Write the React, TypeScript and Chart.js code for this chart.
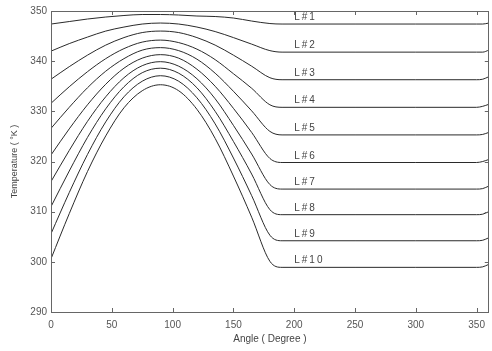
import React, { useEffect, useRef } from "react";
import { Chart, registerables } from "chart.js";

Chart.register(...registerables);

const angles = [0, 15, 30, 45, 60, 75, 90, 105, 120, 135, 150, 165, 180, 190, 250, 300, 350, 355, 360];

const line1 = [347.4, 347.9, 348.4, 348.8, 349.1, 349.3, 349.3, 349.2, 349.0, 348.9, 348.6, 348.0, 347.5, 347.4, 347.4, 347.4, 347.4, 347.4, 347.6];
const line2 = [342.0, 343.5, 344.8, 346.0, 346.8, 347.4, 347.6, 347.4, 346.8, 345.9, 344.7, 343.4, 342.1, 341.8, 341.8, 341.8, 341.8, 341.8, 342.2];
const line3 = [336.4, 338.9, 341.2, 343.2, 344.7, 345.7, 346.0, 345.7, 344.7, 343.2, 341.2, 339.0, 336.7, 336.3, 336.3, 336.3, 336.3, 336.4, 336.9];
const line4 = [331.6, 334.9, 337.9, 340.5, 342.5, 343.8, 344.2, 343.7, 342.4, 340.3, 337.5, 334.6, 331.3, 330.8, 330.8, 330.8, 330.8, 331.0, 331.4];
const line5 = [326.6, 330.8, 334.7, 338.0, 340.5, 342.2, 342.7, 342.1, 340.4, 337.6, 334.0, 330.1, 326.0, 325.3, 325.3, 325.3, 325.3, 325.4, 325.8];
const line6 = [321.3, 326.5, 331.3, 335.4, 338.6, 340.6, 341.3, 340.6, 338.4, 335.0, 330.6, 325.8, 320.6, 319.8, 319.8, 319.8, 319.8, 320.0, 320.4];
const line7 = [316.0, 322.2, 328.0, 332.9, 336.7, 339.1, 339.9, 339.0, 336.5, 332.5, 327.2, 321.5, 315.4, 314.5, 314.5, 314.5, 314.5, 314.6, 315.1];
const line8 = [311.0, 318.1, 324.8, 330.5, 334.9, 337.7, 338.6, 337.6, 334.7, 330.0, 324.0, 317.5, 310.4, 309.4, 309.4, 309.4, 309.4, 309.5, 310.0];
const line9 = [305.6, 313.8, 321.4, 327.9, 332.9, 336.0, 337.1, 336.0, 332.7, 327.5, 320.7, 313.2, 305.3, 304.2, 304.2, 304.2, 304.2, 304.3, 304.8];
const line10 = [300.6, 309.6, 318.0, 325.1, 330.7, 334.1, 335.3, 334.1, 330.4, 324.6, 317.1, 308.9, 300.1, 298.9, 298.9, 298.9, 298.9, 299.0, 299.5];

const seriesNames = ["L#1", "L#2", "L#3", "L#4", "L#5", "L#6", "L#7", "L#8", "L#9", "L#10"];
const seriesValues = [line1, line2, line3, line4, line5, line6, line7, line8, line9, line10];

const xTicks = [0, 50, 100, 150, 200, 250, 300, 350];
const yTicks = [290, 300, 310, 320, 330, 340, 350];

const labelAngle = 200;

const framePlugin = {
  id: "framePlugin",
  afterDatasetsDraw(chart: any) {
    const { ctx, chartArea } = chart;
    const xs = chart.scales.x;
    const ys = chart.scales.y;
    const { left, right, top, bottom } = chartArea;
    ctx.save();
    ctx.strokeStyle = "#666";
    ctx.lineWidth = 1;
    ctx.strokeRect(Math.round(left) + 0.5, Math.round(top) + 0.5, Math.round(right - left) - 1, Math.round(bottom - top));
    const tl = 4;
    ctx.beginPath();
    xTicks.forEach((v) => {
      const px = Math.round(xs.getPixelForValue(v)) + 0.5;
      ctx.moveTo(px, bottom);
      ctx.lineTo(px, bottom - tl);
      ctx.moveTo(px, top);
      ctx.lineTo(px, top + tl);
    });
    yTicks.forEach((v) => {
      const py = Math.round(ys.getPixelForValue(v)) + 0.5;
      ctx.moveTo(left, py);
      ctx.lineTo(left + tl, py);
      ctx.moveTo(right, py);
      ctx.lineTo(right - tl, py);
    });
    ctx.stroke();

    ctx.fillStyle = "#444";
    ctx.font = "10px 'Liberation Sans', Arial, sans-serif";
    (ctx as any).letterSpacing = "2px";
    ctx.textAlign = "left";
    ctx.textBaseline = "alphabetic";
    seriesNames.forEach((name, i) => {
      const vals = seriesValues[i];
      const flat = vals[angles.indexOf(250)];
      const px = xs.getPixelForValue(labelAngle);
      const py = ys.getPixelForValue(flat) - 4;
      ctx.fillText(name, px, py);
    });
    ctx.restore();
  },
};

export default function App() {
  const ref = useRef<HTMLCanvasElement>(null);
  useEffect(() => {
    document.body.style.margin = "0";
    const canvas = ref.current;
    if (!canvas) return;
    const chart = new Chart(canvas, {
      type: "line",
      data: {
        datasets: seriesValues.map((vals, i) => ({
          label: seriesNames[i],
          data: angles.map((a, j) => ({ x: a, y: vals[j] })),
          borderColor: "#2a2a2a",
          borderWidth: 1,
          pointRadius: 0,
          fill: false,
          cubicInterpolationMode: "monotone" as const,
        })),
      },
      options: {
        responsive: false,
        animation: false,
        layout: { padding: { left: 0, top: 11, right: 1, bottom: 0 } },
        plugins: { legend: { display: false }, tooltip: { enabled: false } },
        scales: {
          x: {
            type: "linear",
            min: 0,
            max: 360,
            grid: { display: false, drawTicks: false },
            border: { display: false },
            afterBuildTicks: (s: any) => {
              s.ticks = xTicks.map((v) => ({ value: v }));
            },
            afterFit: (s: any) => {
              s.height = 39;
            },
            ticks: {
              padding: 7,
              color: "#555",
              font: { size: 10, family: "'Liberation Sans', Arial, sans-serif" },
              maxRotation: 0,
              autoSkip: false,
            },
            title: {
              display: true,
              text: "Angle ( Degree )",
              color: "#444",
              font: { size: 10, family: "'Liberation Sans', Arial, sans-serif" },
              padding: { top: 0, bottom: 6 },
            },
          },
          y: {
            type: "linear",
            min: 290,
            max: 350,
            grid: { display: false, drawTicks: false },
            border: { display: false },
            afterBuildTicks: (s: any) => {
              s.ticks = yTicks.map((v) => ({ value: v }));
            },
            afterFit: (s: any) => {
              s.width = 51;
            },
            ticks: {
              padding: 4,
              color: "#555",
              font: { size: 10, family: "'Liberation Sans', Arial, sans-serif" },
              autoSkip: false,
            },
            title: {
              display: true,
              text: "Temperature ( °K )",
              color: "#444",
              font: { size: 9, family: "'Liberation Sans', Arial, sans-serif" },
              padding: { top: 9, bottom: 0 },
            },
          },
        },
      },
      plugins: [framePlugin],
    });
    return () => chart.destroy();
  }, []);
  return (
    <div style={{ width: 492, height: 351, background: "#fff" }}>
      <canvas ref={ref} width={492} height={351} style={{ width: 492, height: 351, display: "block" }} />
    </div>
  );
}
